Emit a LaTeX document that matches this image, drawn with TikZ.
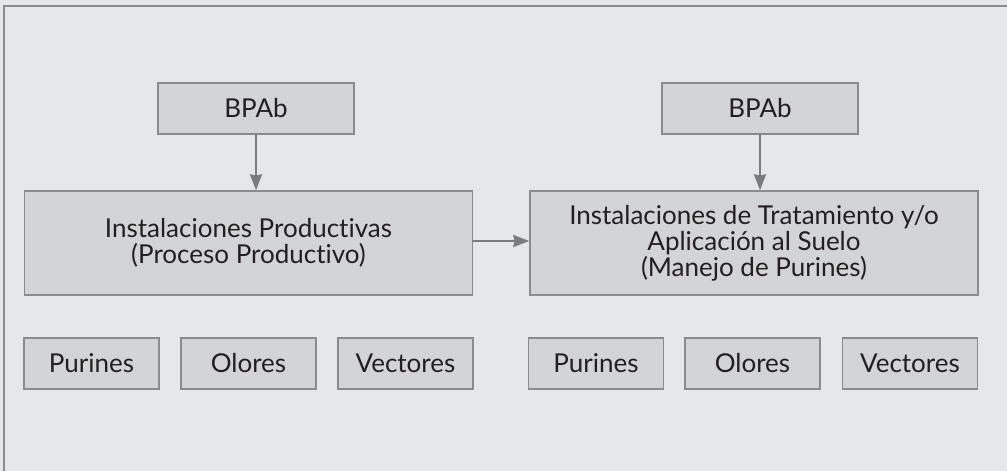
\documentclass[tikz,border=0pt]{standalone}
\usepackage{fontspec}
\setmainfont{Lato}[Ligatures=NoCommon]
\usetikzlibrary{arrows.meta}
\definecolor{bgc}{HTML}{E6E7E8}
\definecolor{boxc}{HTML}{D3D4D6}
\definecolor{edgec}{HTML}{8A8B8D}
\definecolor{arrc}{HTML}{7B7C7E}
\definecolor{txtc}{HTML}{231F20}
\tikzset{
  box/.style={draw=edgec, fill=boxc, line width=1.1pt, inner sep=0pt, text=txtc,
    font=\fontsize{19.5}{19.5}\selectfont, align=center},
  smallbox/.style={box, minimum width=101.25pt, minimum height=38.25pt,
    text height=14pt, text depth=0pt},
  topbox/.style={box, minimum width=147pt, minimum height=38.25pt,
    text height=14pt, text depth=0pt},
  bigbox/.style={box, minimum width=336pt, minimum height=78pt},
  conn/.style={draw=arrc, line width=1.5pt, -{Stealth[length=12pt, width=9pt, inset=1pt]}}
}
\begin{document}
\begin{tikzpicture}[x=0.75pt, y=-0.75pt]
\useasboundingbox (0,0) rectangle (1007,471);
\fill[bgc] (0,0) rectangle (1007,471);
\draw[edgec, line width=1pt] (4,471) -- (4,6) -- (1007,6);
\node[topbox] (bpa1) at (256,108.5) {BPAb};
\node[topbox] (bpa2) at (760,108.5) {BPAb};
\node[bigbox] (ip) at (248.5,243) {Instalaciones Productivas\\(Proceso Productivo)};
\node[bigbox] (it) at (754,243) {Instalaciones de Tratamiento y/o\\Aplicación al Suelo\\(Manejo de Purines)};
\node[smallbox] (p1) at (91.5,363.5) {Purines};
\node[smallbox] (o1) at (248.5,363.5) {Olores};
\node[smallbox] (v1) at (405.5,363.5) {Vectores};
\node[smallbox] (p2) at (596,363.5) {Purines};
\node[smallbox] (o2) at (752.5,363.5) {Olores};
\node[smallbox] (v2) at (910,363.5) {Vectores};
\draw[conn] (bpa1.south) -- (bpa1.south |- ip.north);
\draw[conn] (bpa2.south) -- (bpa2.south |- it.north);
\draw[conn] (ip.east |- 0,241) -- (it.west |- 0,241);
\end{tikzpicture}
\end{document}
